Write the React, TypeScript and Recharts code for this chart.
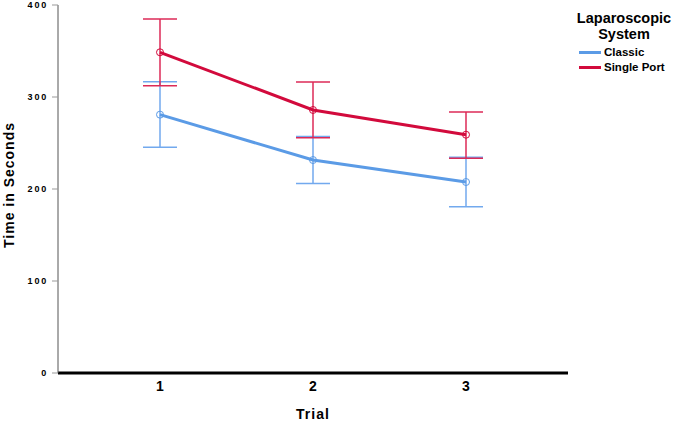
import { LineChart, Line, XAxis, YAxis, ErrorBar, Legend, Label } from "recharts";

// Mean time per trial with 95% CI bounds
const trials = [1, 2, 3];
const classicMean = [280.8, 231.5, 207.6];
const classicLow = [245.3, 206.0, 180.8];
const classicHigh = [316.6, 257.0, 234.4];
const singleMean = [348.6, 285.9, 259.0];
const singleLow = [312.3, 255.6, 233.3];
const singleHigh = [384.8, 316.3, 283.7];
const yTicks = [0, 100, 200, 300, 400];

const BLUE = "#5b9be6";
const RED = "#d20a3c";
const BLUE_ERR = "#72a9ee";
const RED_ERR = "#dc2a57";
const FONT = "'Liberation Sans', Arial, sans-serif";

const data = trials.map((t, i) => ({
  trial: t,
  classic: classicMean[i],
  classicErr: [classicMean[i] - classicLow[i], classicHigh[i] - classicMean[i]],
  single: singleMean[i],
  singleErr: [singleMean[i] - singleLow[i], singleHigh[i] - singleMean[i]],
}));

const renderLegend = (props: any) => {
  const items = props.payload || [];
  return (
    <div style={{ fontFamily: FONT, fontWeight: 700, color: "#000" }}>
      <div style={{ fontSize: 14.5, lineHeight: "16px", textAlign: "center" }}>
        Laparoscopic
        <br />
        System
      </div>
      <div style={{ marginTop: 3, paddingLeft: 7 }}>
        {items.map((it: any) => (
          <div
            key={it.value}
            style={{ display: "flex", alignItems: "center", fontSize: 11.5, lineHeight: "15px" }}
          >
            <span style={{ width: 22, height: 3, background: it.color, marginRight: 3 }} />
            {it.value}
          </div>
        ))}
      </div>
    </div>
  );
};

export default function App() {
  return (
    <div style={{ position: "absolute", left: 0, top: 0, background: "#fff" }}>
      <LineChart
        width={676}
        height={422}
        data={data}
        margin={{ top: 5, right: 108, bottom: 0, left: 0 }}
      >
        <XAxis
          dataKey="trial"
          type="number"
          domain={[1 / 3, 11 / 3]}
          ticks={trials}
          height={49}
          axisLine={{ stroke: "#000", strokeWidth: 3 }}
          tickLine={false}
          tickSize={6}
          tickMargin={2}
          tick={{ fontSize: 14, fontWeight: 700, fill: "#000", fontFamily: FONT }}
        >
          <Label
            content={(p: any) => {
              const vb = p.viewBox;
              return (
                <text
                  x={vb.x + vb.width / 2}
                  y={vb.y + 46}
                  textAnchor="middle"
                  fontFamily={FONT}
                  fontWeight={700}
                  fontSize={14}
                  letterSpacing={1}
                  fill="#000"
                >
                  Trial
                </text>
              );
            }}
          />
        </XAxis>
        <YAxis
          domain={[0, 400]}
          ticks={yTicks}
          width={58}
          axisLine={{ stroke: "#555", strokeWidth: 1 }}
          tickLine={{ stroke: "#999" }}
          tickSize={6}
          tickMargin={4}
          tick={{ fontSize: 9, fontWeight: 700, fill: "#000", fontFamily: FONT, letterSpacing: 1.8 }}
        >
          <Label
            content={(p: any) => {
              const vb = p.viewBox;
              const cx = vb.x + 9;
              const cy = vb.y + vb.height / 2 - 4;
              return (
                <text
                  x={cx}
                  y={cy}
                  transform={`rotate(-90 ${cx} ${cy})`}
                  textAnchor="middle"
                  dominantBaseline="central"
                  fontFamily={FONT}
                  fontWeight={700}
                  fontSize={14}
                  letterSpacing={1}
                  fill="#000"
                >
                  Time in Seconds
                </text>
              );
            }}
          />
        </YAxis>
        <Legend
          layout="horizontal"
          verticalAlign="middle"
          align="center"
          content={renderLegend}
          wrapperStyle={{ position: "absolute", top: 10, left: 572, width: 104 }}
        />
        <Line
          name="Classic"
          dataKey="classic"
          stroke={BLUE}
          strokeWidth={3}
          dot={{ r: 3.5, stroke: BLUE, strokeWidth: 1, fill: "none" }}
          activeDot={false}
          isAnimationActive={false}
        >
          <ErrorBar dataKey="classicErr" direction="y" width={17} stroke={BLUE_ERR} strokeWidth={1.5} />
        </Line>
        <Line
          name="Single Port"
          dataKey="single"
          stroke={RED}
          strokeWidth={3}
          dot={{ r: 3.5, stroke: RED, strokeWidth: 1, fill: "none" }}
          activeDot={false}
          isAnimationActive={false}
        >
          <ErrorBar dataKey="singleErr" direction="y" width={17} stroke={RED_ERR} strokeWidth={1.5} />
        </Line>
      </LineChart>
    </div>
  );
}
